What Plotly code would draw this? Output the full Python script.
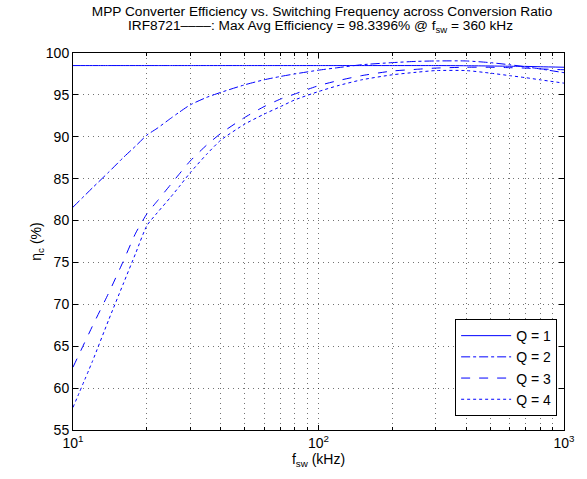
import plotly.graph_objects as go

freq_khz = [10, 12, 14, 16, 18, 20, 22, 25, 27, 30, 35, 40, 50, 60, 70, 80, 100, 120, 150,
            200, 250, 300, 400, 500, 600, 700, 800, 1000]
eff_q1 = [98.5, 98.5, 98.5, 98.5, 98.5, 98.5, 98.5, 98.5, 98.5, 98.5, 98.5, 98.5, 98.5,
          98.5, 98.5, 98.5, 98.5, 98.5, 98.5, 98.5, 98.5, 98.5, 98.48, 98.45, 98.42,
          98.4, 98.36, 98.3]
eff_q2 = [81.6, 83.9, 85.8, 87.5, 88.9, 90.2, 91.0, 92.2, 92.9, 93.8, 94.7, 95.3, 96.2,
          96.8, 97.2, 97.5, 97.95, 98.25, 98.6, 98.85, 99.0, 99.05, 99.05, 98.85, 98.6,
          98.35, 98.1, 97.65]
eff_q3 = [62.5, 67.4, 71.4, 75.1, 78.5, 80.8, 82.3, 84.3, 85.5, 87.1, 89.0, 90.4, 92.3,
          93.6, 94.5, 95.1, 96.1, 96.7, 97.3, 97.85, 98.05, 98.2, 98.3, 98.3, 98.25, 98.2,
          98.1, 98.0]
eff_q4 = [57.7, 63.2, 68.2, 72.4, 76.1, 79.4, 80.9, 82.8, 84.0, 85.7, 87.9, 89.6, 91.5,
          92.7, 93.6, 94.4, 95.4, 96.1, 96.8, 97.4, 97.7, 97.9, 97.9, 97.6, 97.3, 97.05,
          96.8, 96.4]
series_names = ["Q = 1", "Q = 2", "Q = 3", "Q = 4"]
series_dash = ["solid", "dashdot", "dash", "dot"]
x_tick_vals = [10, 100, 1000]
x_tick_text = ["10<sup>1</sup>", "10<sup>2</sup>", "10<sup>3</sup>"]
x_minor_vals = [20, 30, 40, 50, 60, 70, 80, 90, 200, 300, 400, 500, 600, 700, 800, 900]
y_tick_vals = [55, 60, 65, 70, 75, 80, 85, 90, 95, 100]
title_line1 = "MPP Converter Efficiency vs. Switching Frequency across Conversion Ratio"
title_line2 = "IRF8721––––: Max Avg Efficiency = 98.3396% @ f<sub>sw</sub> = 360 kHz"

font_family = "Liberation Sans, Arial, Helvetica, sans-serif"
fig = go.Figure()
for name, ys, dash in zip(series_names, [eff_q1, eff_q2, eff_q3, eff_q4], series_dash):
    fig.add_trace(go.Scatter(x=freq_khz, y=ys, mode="lines", name=name,
                             line=dict(color="#0000ff", width=1, dash=dash,
                                       shape="spline", smoothing=0.6)))

grid_col = "rgba(0,0,0,0.55)"
fig.update_layout(
    width=587, height=479,
    margin=dict(l=73, r=17, t=53, b=49),
    paper_bgcolor="white", plot_bgcolor="white",
    font=dict(family=font_family, size=14, color="black"),
    title=dict(text=title_line1,
               x=0.5486, xref="container", xanchor="center",
               y=0.977, yref="container", yanchor="middle",
               font=dict(size=13.7)),
    legend=dict(x=0.986, xanchor="right", y=0.037, yanchor="bottom",
                bordercolor="black", borderwidth=1, bgcolor="white",
                font=dict(size=14), tracegroupgap=0, itemwidth=50),
    showlegend=True,
)
fig.add_annotation(text=title_line2, xref="paper", yref="paper", x=0.505, y=1.069,
                   xanchor="center", yanchor="middle", showarrow=False,
                   font=dict(size=13.7))
fig.update_xaxes(type="log", range=[1, 3], tickvals=x_tick_vals, ticktext=x_tick_text,
                 ticks="inside", ticklen=5, tickcolor="black",
                 showline=True, linecolor="black", linewidth=1, mirror="ticks",
                 showgrid=True, gridcolor=grid_col, griddash="1px,4px", gridwidth=1,
                 minor=dict(tickvals=x_minor_vals, ticks="inside", ticklen=3, tickcolor="black",
                            showgrid=True, gridcolor=grid_col, griddash="1px,4px", gridwidth=1),
                 zeroline=False,
                 title=dict(text="f<sub>sw</sub> (kHz)", standoff=2, font=dict(size=14)),
                 tickfont=dict(size=14))
fig.update_yaxes(range=[55, 100], tickvals=y_tick_vals,
                 ticks="inside", ticklen=5, tickcolor="black",
                 showline=True, linecolor="black", linewidth=1, mirror="ticks",
                 showgrid=True, gridcolor=grid_col, griddash="1px,4px", gridwidth=1,
                 zeroline=False,
                 title=dict(text="η<sub>c</sub> (%)", standoff=0, font=dict(size=14)),
                 tickfont=dict(size=14))
fig.write_html("out.html", config={"displayModeBar": False},
               post_script="document.body.style.margin='0';"
                           "document.documentElement.style.overflow='hidden';")
